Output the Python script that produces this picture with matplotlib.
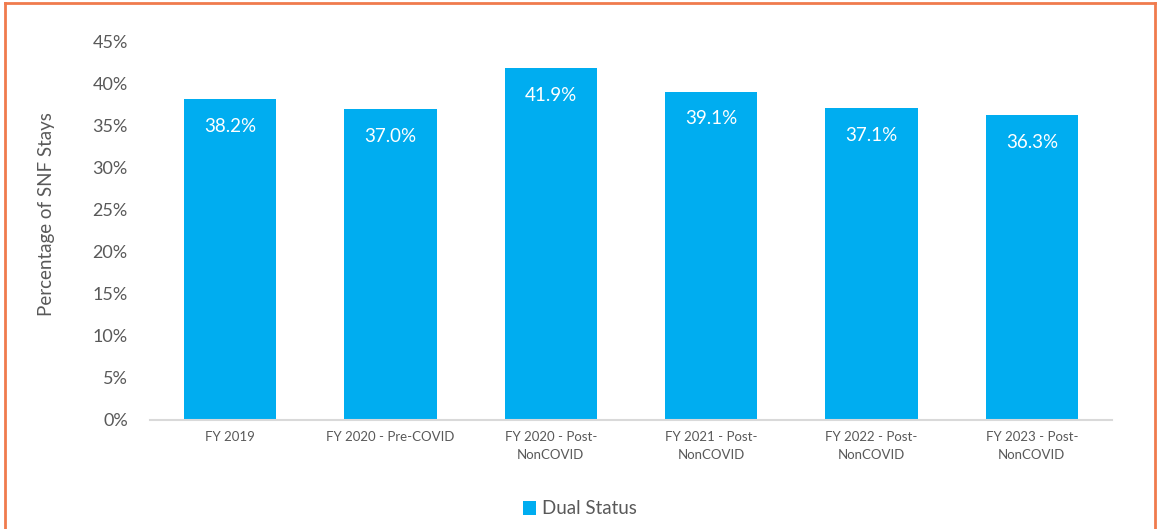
import matplotlib
matplotlib.use("Agg")
import matplotlib.pyplot as plt
from matplotlib.lines import Line2D

categories = ["FY 2019", "FY 2020 - Pre-COVID", "FY 2020 - Post-\nNonCOVID",
              "FY 2021 - Post-\nNonCOVID", "FY 2022 - Post-\nNonCOVID", "FY 2023 - Post-\nNonCOVID"]
values = [38.2, 37.0, 41.9, 39.1, 37.1, 36.3]
yticks = [0, 5, 10, 15, 20, 25, 30, 35, 40, 45]
series_name = "Dual Status"

plt.rcParams['font.family'] = ['Lato', 'DejaVu Sans']
TXT = '#595959'
BAR = '#00ADF0'

W, H = 1157, 529
fig = plt.figure(figsize=(W/100, H/100), dpi=100)
ax = fig.add_axes([150/W, 1-420/H, (1112-150)/W, (420-42)/H])

x = list(range(len(categories)))
bars = ax.bar(x, values, width=0.575, color=BAR, label=series_name, zorder=2)
for xi, v in zip(x, values):
    ax.annotate(f"{v:.1f}%", (xi, v), xytext=(0, -27), textcoords='offset pixels',
                ha='center', va='center', color='white', fontsize=13.5)

ax.set_xlim(-0.5, len(categories)-0.5)
ax.set_ylim(0, 45)
ax.set_yticks(yticks)
ax.set_yticklabels([f"{t}%" for t in yticks], fontsize=13, color=TXT)
ax.set_xticks(x)
ax.set_xticklabels(categories, fontsize=9.5, color=TXT, linespacing=1.6)
ax.tick_params(axis='y', length=0, pad=16)
ax.tick_params(axis='x', length=0, pad=8)
for s in ['top', 'right', 'left']:
    ax.spines[s].set_visible(False)
ax.spines['bottom'].set_color('#D9D9D9')
ax.spines['bottom'].set_linewidth(1.5)

fig.text(47/W, 1-214/H, "Percentage of SNF Stays", rotation=90, ha='center', va='center',
         fontsize=13.5, color=TXT)

leg = fig.legend(handles=[bars], labels=[series_name], loc='center', bbox_to_anchor=(580/W, 1-509/H),
                 frameon=False, fontsize=13.5, handlelength=0.7, handleheight=0.7, handletextpad=0.3)
for t in leg.get_texts():
    t.set_color(TXT)

# orange border
oc = '#F07B4D'
fig.add_artist(Line2D([5/W, 5/W], [0, 1-3/H], color=oc, lw=2, transform=fig.transFigure))
fig.add_artist(Line2D([5/W, 1155/W], [1-3/H, 1-3/H], color=oc, lw=2, transform=fig.transFigure))
fig.add_artist(Line2D([1155/W, 1155/W], [0, 1-3/H], color=oc, lw=2, transform=fig.transFigure))

fig.savefig("out.png", dpi=100)
